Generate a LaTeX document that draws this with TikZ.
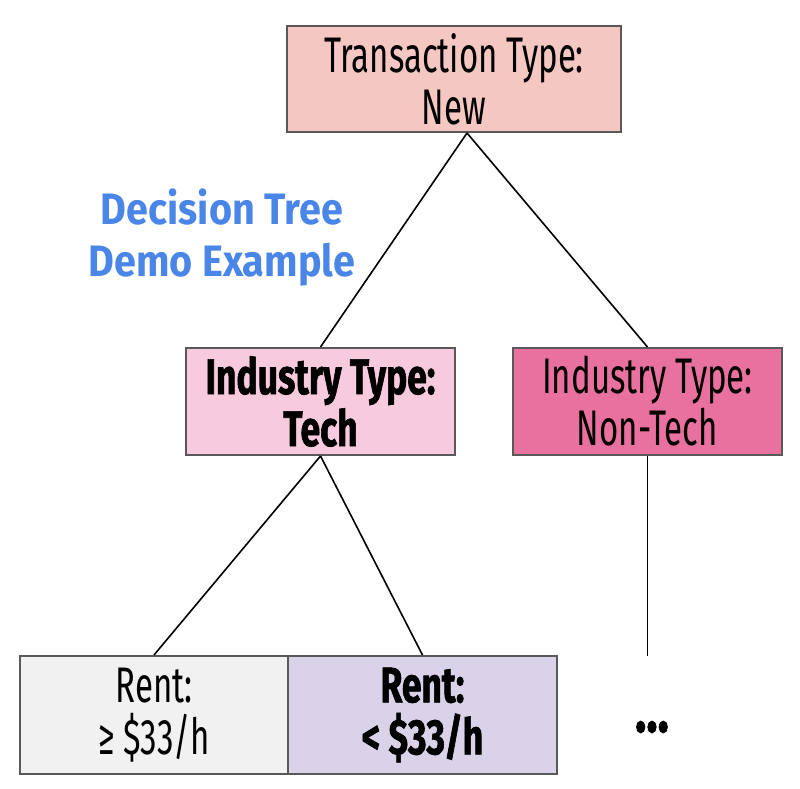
\documentclass[tikz,border=0pt]{standalone}
\usepackage{fontspec}
\setmainfont{Fira Sans}[FakeStretch=0.66, BoldFeatures={FakeStretch=0.71, FakeBold=1.2}]
\newfontfamily\titlefont{Fira Sans}[FakeStretch=0.9]
\definecolor{topfill}{HTML}{F4C7C3}
\definecolor{techfill}{HTML}{F7CBDD}
\definecolor{ntfill}{HTML}{E8719F}
\definecolor{rentafill}{HTML}{F1F1F1}
\definecolor{rentbfill}{HTML}{D9D2E9}
\definecolor{edgegray}{HTML}{595959}
\definecolor{titleblue}{HTML}{4A86E8}
\tikzset{
  box/.style={draw=edgegray, line width=2pt, inner sep=0pt, align=center,
    font=\fontsize{50}{52}\selectfont},
  boldbox/.style={box, font=\fontsize{50}{52}\selectfont\bfseries},
  link/.style={black, line width=1.6pt}
}
\begin{document}
\begin{tikzpicture}[x=1pt,y=-1pt]
\useasboundingbox[fill=white] (0,0) rectangle (800,788);
\node[box, fill=topfill, minimum width=334pt, minimum height=106pt] (top) at (454,79) {Transaction Type:\\New};
\node[boldbox, fill=techfill, minimum width=269pt, minimum height=107pt] (tech) at (320.5,401.5) {Industry Type:\\Tech};
\node[box, fill=ntfill, minimum width=269pt, minimum height=107pt] (nontech) at (647.5,401.5) {Industry Type:\\Non-Tech};
\node[box, fill=rentafill, minimum width=268pt, minimum height=118pt] (renta) at (154,715) {Rent:\\≥ \$33/h};
\node[boldbox, fill=rentbfill, minimum width=269pt, minimum height=118pt] (rentb) at (422.5,715) {Rent:\\< \$33/h};
\node[font=\fontsize{66}{66}\selectfont\bfseries, inner sep=0pt] (dots) at (652,727) {...};
\coordinate (ntend) at (647.5,656);
\coordinate (apex) at ([xshift=13pt]top.south);
\node[text=titleblue, align=center, font=\titlefont\fontsize{44}{52}\selectfont\bfseries] (title) at (222,238) {Decision Tree\\Demo Example};
\draw[link] (apex) -- (tech.north);
\draw[link] (apex) -- (nontech.north);
\draw[link] (tech.south) -- (renta.north);
\draw[link] (tech.south) -- (rentb.north);
\draw[link] (nontech.south) -- (ntend);
\end{tikzpicture}
\end{document}
